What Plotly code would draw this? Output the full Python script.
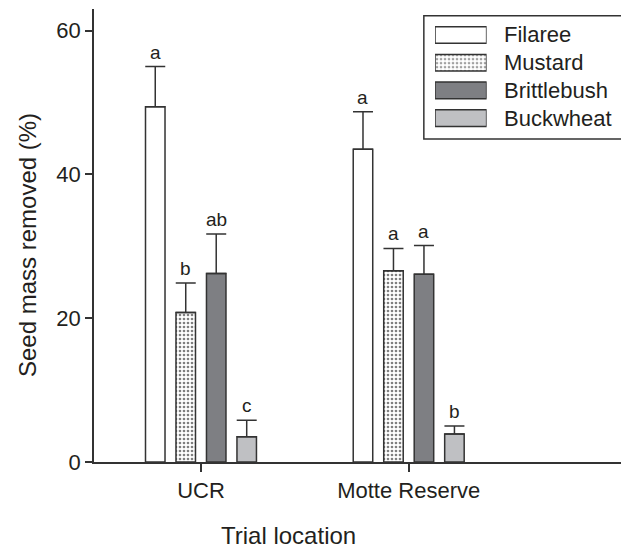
import plotly.graph_objects as go

locations = ["UCR", "Motte Reserve"]
species = ["Filaree", "Mustard", "Brittlebush", "Buckwheat"]
means = {
    "Filaree": [49.4, 43.5],
    "Mustard": [20.8, 26.6],
    "Brittlebush": [26.2, 26.1],
    "Buckwheat": [3.5, 3.9],
}
err_plus = {
    "Filaree": [5.6, 5.2],
    "Mustard": [4.1, 3.1],
    "Brittlebush": [5.5, 4.0],
    "Buckwheat": [2.3, 1.1],
}
letters = {
    "Filaree": ["a", "a"],
    "Mustard": ["b", "a"],
    "Brittlebush": ["ab", "a"],
    "Buckwheat": ["c", "b"],
}
y_ticks = [0, 20, 40, 60]

fills = {"Filaree": "white", "Mustard": "white", "Brittlebush": "#7e7f83", "Buckwheat": "#bfc0c3"}
patterns = {"Filaree": "", "Mustard": ".", "Brittlebush": "", "Buckwheat": ""}
EDGE = "#333333"
TXT = "#231f20"
FONT = "Liberation Sans, Arial, sans-serif"
BARGAP = 0.413
BARGROUPGAP = 0.36

fig = go.Figure()
for s in species:
    fig.add_trace(go.Bar(
        x=locations, y=means[s], name=s, showlegend=False,
        marker=dict(color=fills[s], line=dict(color=EDGE, width=1.5),
                    pattern=dict(shape=patterns[s], fgcolor="black", bgcolor="white",
                                 size=4, solidity=0.35)),
        error_y=dict(type="data", symmetric=False, array=err_plus[s], arrayminus=[0, 0],
                     color=EDGE, thickness=1.5, width=10),
    ))

# significance letters
slot = (1 - BARGAP) / len(species)
for i, s in enumerate(species):
    for j, loc in enumerate(locations):
        fig.add_annotation(
            x=j + (i - 1.5) * slot, y=means[s][j] + err_plus[s][j],
            xref="x", yref="y", text=letters[s][j], showarrow=False,
            yanchor="bottom", yshift=2, font=dict(size=19, color=TXT, family=FONT))

# custom legend with wide swatches (inset axes)
fig.add_trace(go.Bar(
    y=species, x=[1] * len(species), orientation="h", width=0.6,
    xaxis="x2", yaxis="y2", showlegend=False, hoverinfo="skip",
    marker=dict(color=[fills[s] for s in species], line=dict(color=EDGE, width=1.5),
                pattern=dict(shape=[patterns[s] for s in species], fgcolor="black",
                             bgcolor="white", size=4, solidity=0.35)),
))
for s in species:
    fig.add_annotation(x=0.767, y=s, xref="paper", yref="y2", text=s, showarrow=False,
                       xanchor="left", yanchor="middle",
                       font=dict(size=22, color=TXT, family=FONT))
fig.add_shape(type="rect", xref="paper", yref="paper", x0=0.620, x1=1.0, y0=0.7128, y1=0.9852,
              line=dict(color=EDGE, width=1.5), fillcolor="rgba(0,0,0,0)", layer="below")

# axis titles
fig.add_annotation(x=-0.126, y=0.479, xref="paper", yref="paper", text="Seed mass removed (%)",
                   textangle=-90, showarrow=False, xanchor="center", yanchor="middle",
                   font=dict(size=24, color=TXT, family=FONT))
fig.add_annotation(x=0.3665, y=-0.1619, xref="paper", yref="paper", text="Trial location",
                   showarrow=False, xanchor="center", yanchor="middle", borderpad=0,
                   font=dict(size=24, color=TXT, family=FONT))

fig.update_layout(
    width=621, height=540,
    margin=dict(l=86, r=3, t=1, b=86, pad=0),
    paper_bgcolor="white", plot_bgcolor="white",
    barmode="group", bargap=BARGAP, bargroupgap=BARGROUPGAP,
    font=dict(family=FONT, color=TXT, size=22),
    xaxis=dict(type="category", range=[-0.515, 2.046], showline=True, linecolor=EDGE,
               linewidth=1.5, ticks="outside", ticklen=8, tickwidth=1.5, tickcolor=EDGE,
               showgrid=False, zeroline=False, tickfont=dict(size=22)),
    yaxis=dict(range=[0, 63], tickvals=y_ticks, showline=True, linecolor=EDGE, linewidth=1.5,
               ticks="outside", ticklen=7, tickwidth=1.5, tickcolor=EDGE, showgrid=False,
               zeroline=False, tickfont=dict(size=22)),
    xaxis2=dict(domain=[0.641, 0.738], anchor="y2", range=[0, 1], visible=False),
    yaxis2=dict(domain=[0.7286, 0.9732], anchor="x2", type="category",
                categoryorder="array", categoryarray=species, range=[3.5, -0.5], visible=False),
)

fig.write_html("out.html")
